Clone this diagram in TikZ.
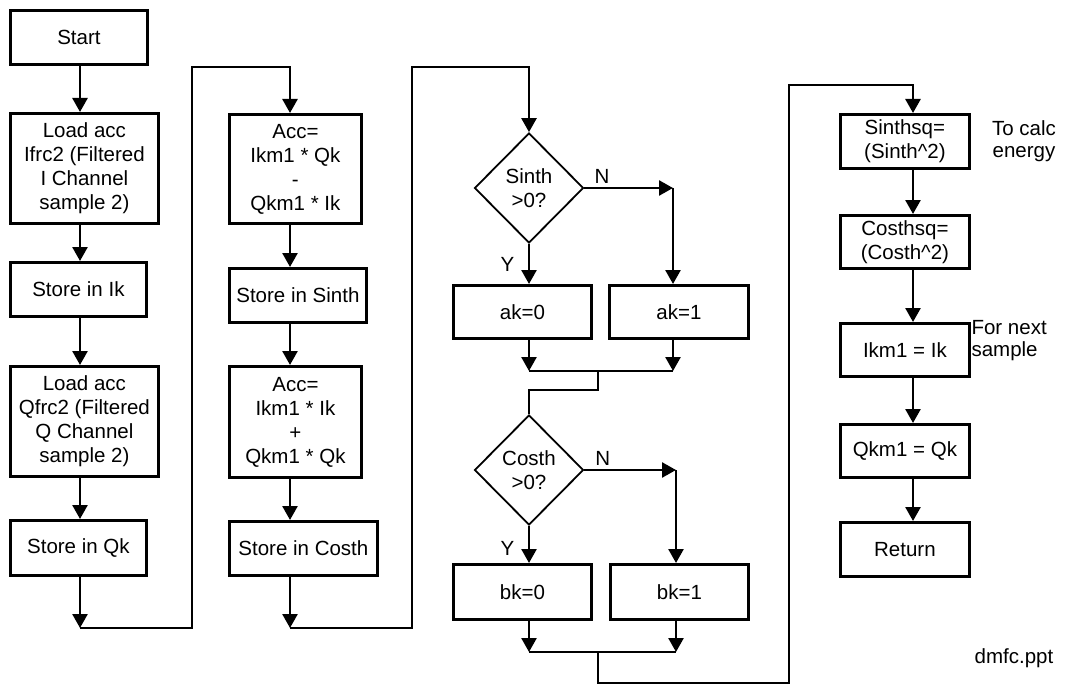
\documentclass[tikz,border=0pt]{standalone}
\usepackage{fontspec}
\setmainfont{Liberation Sans}
\usetikzlibrary{arrows.meta,shapes.geometric}
\begin{document}
\begin{tikzpicture}[x=1pt,y=-1pt,font=\fontsize{20.5}{24}\selectfont,line join=miter,>={Triangle[length=14pt,width=15pt]},
  box/.style={draw,line width=2.8pt,align=center,anchor=north west,inner sep=2pt},
  dec/.style={draw,diamond,line width=1.8pt,align=center,inner sep=0pt,minimum width=109,minimum height=110},
  flow/.style={line width=2.6pt}]
\useasboundingbox (0,0) rectangle (1066,690);
\foreach \n/\x/\y/\w/\h/\txt in {start/9/9/137/54/{Start},
  ldi/9/112/148/110/{Load acc\\Ifrc2 (Filtered\\I Channel\\sample 2)},
  sik/9/261/136/54/{Store in Ik},
  ldq/9/365/148/110/{Load acc\\Qfrc2 (Filtered\\Q Channel\\sample 2)},
  sqk/9/519/136/55/{Store in Qk},
  acs/228/113/132/109/{Acc=\\Ikm1 * Qk\\-\\Qkm1 * Ik},
  sts/228/267/137/54/{Store in Sinth},
  acc/228/365/132/111/{Acc=\\Ikm1 * Ik\\+\\Qkm1 * Qk},
  stc/228/520/148/54/{Store in Costh},
  ak0/452/284/138/53/{ak=0},
  ak1/608/284/139/53/{ak=1},
  bk0/452/563/138/55/{bk=0},
  bk1/609/563/138/55/{bk=1},
  ssq/839/113/129/54/{Sinthsq=\\(Sinth\textasciicircum 2)},
  csq/839/214/129/53/{Costhsq=\\(Costh\textasciicircum 2)},
  ikm/839/322/129/53/{Ikm1 = Ik},
  qkm/839/423/129/53/{Qkm1 = Qk},
  ret/839/521/129/54/{Return}}
  {\node[box,minimum width=\w,minimum height=\h] (\n) at (\x,\y) {\txt};}
\node[dec] (dsin) at (529,188) {Sinth\\>0?};
\node[dec] (dcos) at (529,470) {Costh\\>0?};
\node[align=center,font=\fontsize{20.5}{22}\selectfont] (calc) at (1024,141) {To calc\\energy};
\node[anchor=west,align=left,font=\fontsize{20.5}{22}\selectfont] (next) at (968,341) {For next\\sample};
\node (ppt) at (1014,658) {dmfc.ppt};
\coordinate (c1) at (80,0);
\coordinate (c2) at (290,0);
\coordinate (c3) at (529,0);
\coordinate (c4) at (913,0);
\coordinate (ca) at (673,0);
\coordinate (cb) at (676,0);
\coordinate (j1) at (80,628);
\coordinate (u1) at (192,67);
\coordinate (j2) at (290,628);
\coordinate (u2) at (412,67);
\coordinate (n1) at (673,188);
\coordinate (m1) at (598,371);
\coordinate (k1) at (529,390);
\coordinate (n2) at (676,470);
\coordinate (m2) at (598,652);
\coordinate (r1) at (789,683);
\coordinate (r2) at (913,85);
\foreach \a/\b in {start/ldi,ldi/sik,sik/ldq,ldq/sqk}{\draw[flow,->] (\a.south -| c1) -- (\b.north -| c1);}
\draw[flow,->] (sqk.south -| c1) -- (j1);
\draw[flow,->] (j1) -| (u1) -| (acs.north -| c2);
\foreach \a/\b in {acs/sts,sts/acc,acc/stc}{\draw[flow,->] (\a.south -| c2) -- (\b.north -| c2);}
\draw[flow,->] (stc.south -| c2) -- (j2);
\draw[flow,->] (j2) -| (u2) -| (dsin.north);
\draw[flow,->] (dsin.east) -- node[pos=0.2,above]{N} (n1);
\draw[flow,->] (n1) -- (ak1.north -| ca);
\draw[flow,->] (dsin.south) -- node[pos=0.5,left=10pt]{Y} (ak0.north -| c3);
\draw[flow,->] (ak0.south -| c3) -- (c3 |- m1);
\draw[flow,->] (ak1.south -| ca) -- (ca |- m1);
\draw[flow] (c3 |- m1) -- (ca |- m1);
\draw[flow] (m1) |- (k1) -- (dcos.north);
\draw[flow,->] (dcos.east) -- node[pos=0.2,above]{N} (n2);
\draw[flow,->] (n2) -- (bk1.north -| cb);
\draw[flow,->] (dcos.south) -- node[pos=0.6,left=10pt]{Y} (bk0.north -| c3);
\draw[flow,->] (bk0.south -| c3) -- (c3 |- m2);
\draw[flow,->] (bk1.south -| cb) -- (cb |- m2);
\draw[flow] (c3 |- m2) -- (cb |- m2);
\draw[flow,->] (m2) |- (r1) |- (r2) -- (ssq.north -| c4);
\foreach \a/\b in {ssq/csq,csq/ikm,ikm/qkm,qkm/ret}{\draw[flow,->] (\a.south -| c4) -- (\b.north -| c4);}
\end{tikzpicture}
\end{document}
